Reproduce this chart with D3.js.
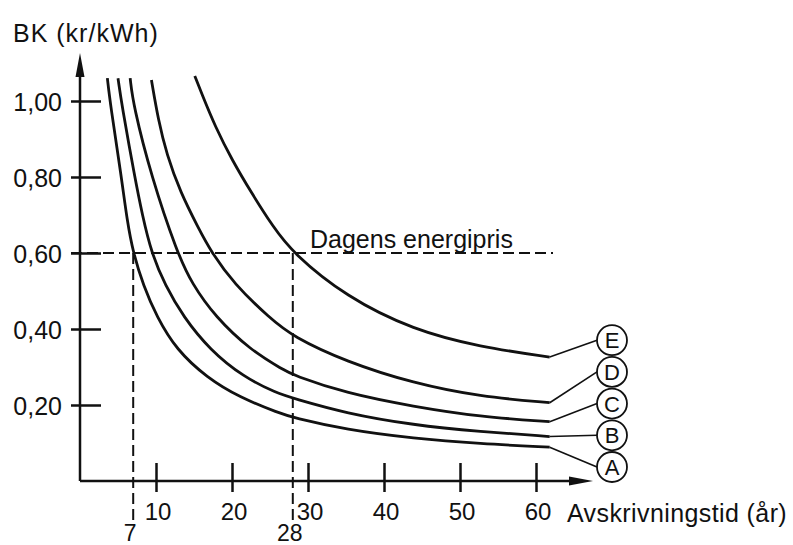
<!DOCTYPE html>
<html lang="sv">
<head>
<meta charset="UTF-8">
<title>BK mot avskrivningstid</title>
<script src="https://cdn.jsdelivr.net/npm/d3@7"></script>
<style>
    body { margin: 0; background: #fff; }
    #CHART text { font-family: "Liberation Sans", Arial, sans-serif; fill: #111; }
</style>
</head>
<body>
<svg id="CHART"></svg>
<script>
    // avskrivningstid (år) och byggkostnad (kr/kWh)
    var serieNamn = ["A", "B", "C", "D", "E"];
    var tA = [3.6, 4.0, 5.45, 6.2, 7.0, 8.33, 10.1, 12.7, 16.7, 21.0, 26.3, 28, 35, 43.9, 52.6, 61.8];
    var vA = [1.06, 0.99, 0.80, 0.685, 0.60, 0.515, 0.432, 0.345, 0.272, 0.22, 0.178, 0.167, 0.135, 0.112, 0.098, 0.089];
    var tB = [5.0, 5.5, 7.2, 8.2, 9.4, 11.2, 13.6, 17.1, 21.5, 25.9, 28, 35, 43.9, 52.6, 61.8];
    var vB = [1.06, 0.99, 0.80, 0.70, 0.60, 0.515, 0.432, 0.345, 0.274, 0.231, 0.218, 0.178, 0.147, 0.130, 0.117];
    var tC = [6.6, 7.0, 9.4, 12.8, 14.7, 17.8, 22.4, 26.8, 28, 35, 43.9, 52.6, 61.8];
    var vC = [1.06, 0.99, 0.80, 0.60, 0.52, 0.432, 0.345, 0.292, 0.279, 0.231, 0.196, 0.169, 0.156];
    var tD = [9.4, 10.3, 11.4, 13.2, 15.6, 17.2, 20.2, 25.0, 28, 35, 43.9, 52.6, 61.8];
    var vD = [1.055, 0.95, 0.86, 0.76, 0.665, 0.605, 0.52, 0.428, 0.38, 0.314, 0.257, 0.222, 0.206];
    var tE = [15.1, 16.0, 17.8, 20.0, 22.6, 25.4, 28, 35, 43.9, 52.6, 61.8];
    var vE = [1.066, 1.02, 0.932, 0.845, 0.757, 0.669, 0.60, 0.485, 0.397, 0.353, 0.326];

    var xTicks = [10, 20, 30, 40, 50, 60];
    var yTicks = [0.2, 0.4, 0.6, 0.8, 1.0];
    var energipris = 0.60;
    var markerAr = [7, 28];   // där A och E skär dagens energipris

    var width = 793, height = 545;
    var x = d3.scaleLinear().domain([0, 60]).range([80, 536]);
    var y = d3.scaleLinear().domain([0, 1]).range([481, 101]);
    var fmt = d3.formatLocale({ decimal: ",", thousands: " ", grouping: [3], currency: ["", " kr"] }).format(".2f");

    var svg = d3.select("#CHART").attr("width", width).attr("height", height);
    var ink = "#111";

    // axlar
    var yAxis = svg.append("g").attr("transform", "translate(" + x(0) + ",0)")
        .call(d3.axisLeft(y).tickValues(yTicks).tickSize(9).tickPadding(0).tickFormat(fmt));
    yAxis.select(".domain").remove();
    yAxis.selectAll(".tick line").attr("x2", 21).attr("x1", -9).attr("stroke", ink).attr("stroke-width", 2.5);
    yAxis.selectAll(".tick text").attr("x", -18).attr("dy", "0.38em").attr("font-size", 25);

    var xAxis = svg.append("g").attr("transform", "translate(0," + y(0) + ")")
        .call(d3.axisBottom(x).tickValues(xTicks).tickSize(11));
    xAxis.select(".domain").remove();
    xAxis.selectAll(".tick line").attr("y1", -18).attr("y2", 11).attr("stroke", ink).attr("stroke-width", 2.5);
    xAxis.selectAll(".tick text").attr("x", 1.5).attr("y", 39).attr("dy", 0).attr("font-size", 24);

    // axellinjer med pilar
    svg.append("line").attr("x1", x(0)).attr("y1", y(0)).attr("x2", x(0)).attr("y2", 72)
        .attr("stroke", ink).attr("stroke-width", 2.5);
    svg.append("path").attr("d", "M" + x(0) + ",53 L" + (x(0) - 4.5) + ",77 L" + (x(0) + 4.5) + ",77 Z").attr("fill", ink);
    svg.append("line").attr("x1", x(0)).attr("y1", y(0)).attr("x2", 574).attr("y2", y(0))
        .attr("stroke", ink).attr("stroke-width", 2.5);
    svg.append("path").attr("d", "M593," + y(0) + " L569," + (y(0) - 4.5) + " L569," + (y(0) + 4.5) + " Z").attr("fill", ink);

    svg.append("text").attr("x", 13).attr("y", 42).attr("font-size", 25).attr("letter-spacing", 1)
        .text("BK (kr/kWh)");
    svg.append("text").attr("x", 567).attr("y", 522).attr("font-size", 25).attr("letter-spacing", 0.4)
        .text("Avskrivningstid (år)");

    // dagens energipris
    svg.append("line").attr("x1", 71).attr("x2", 553).attr("y1", y(energipris)).attr("y2", y(energipris))
        .attr("stroke", ink).attr("stroke-width", 2).attr("stroke-dasharray", "11,5");
    svg.append("text").attr("x", 310).attr("y", 248).attr("font-size", 25).text("Dagens energipris");
    svg.selectAll(".marker").data(markerAr).join("line").attr("class", "marker")
        .attr("x1", function(d){ return x(d); }).attr("x2", function(d){ return x(d); })
        .attr("y1", y(energipris)).attr("y2", 524)
        .attr("stroke", ink).attr("stroke-width", 2).attr("stroke-dasharray", "11,5");
    svg.selectAll(".marker-label").data(markerAr).join("text").attr("class", "marker-label")
        .attr("x", function(d){ return x(d) - 3; }).attr("y", 541)
        .attr("text-anchor", "middle").attr("font-size", 23).text(function(d){ return d; });

    // kurvor
    var serier = [[tA, vA], [tB, vB], [tC, vC], [tD, vD], [tE, vE]].map(function(s, i){
        return { namn: serieNamn[i], punkter: s[0].map(function(t, j){ return [t, s[1][j]]; }) };
    });
    var line = d3.line().x(function(d){ return x(d[0]); }).y(function(d){ return y(d[1]); })
        .curve(d3.curveBasis);
    svg.append("g").selectAll("path").data(serier).join("path")
        .attr("d", function(d){ return line(d.punkter); })
        .attr("fill", "none").attr("stroke", ink).attr("stroke-width", 2.8);

    // etiketter i cirklar
    var cx = 612, r = 15;
    var etikett = svg.append("g").selectAll("g").data(serier).join("g");
    etikett.append("line")
        .attr("x1", function(d){ return x(d.punkter[d.punkter.length - 1][0]); })
        .attr("y1", function(d){ return y(d.punkter[d.punkter.length - 1][1]); })
        .attr("x2", cx - r).attr("y2", function(d, i){ return 467 - i * 31.7; })
        .attr("stroke", ink).attr("stroke-width", 1.6);
    etikett.append("circle").attr("cx", cx).attr("cy", function(d, i){ return 467 - i * 31.7; })
        .attr("r", r).attr("fill", "#fff").attr("stroke", ink).attr("stroke-width", 1.8);
    etikett.append("text").attr("x", cx).attr("y", function(d, i){ return 467 - i * 31.7; })
        .attr("dy", "0.36em").attr("text-anchor", "middle").attr("font-size", 22)
        .text(function(d){ return d.namn; });
</script>
</body>
</html>
